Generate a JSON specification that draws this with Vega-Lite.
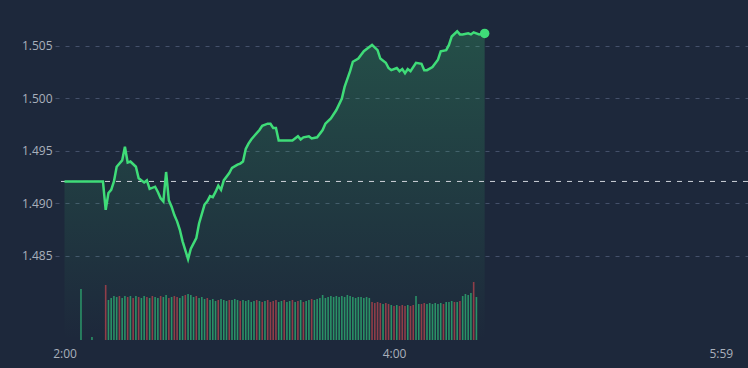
{
  "$schema": "https://vega.github.io/schema/vega-lite/v6.json",
  "autosize": "none",
  "width": 693,
  "height": 340,
  "padding": {"left": 55, "top": 0, "right": 0, "bottom": 28},
  "background": "#1d283b",
  "config": {
    "view": {"stroke": null},
    "font": "Open Sans",
    "axis": {"labelFont": "Open Sans", "labelFontSize": 12, "labelColor": "#a9b0bb", "domain": false, "ticks": false}
  },
  "datasets": {
    "price": [
      {"min": 120, "price": 1.4921}, {"min": 134, "price": 1.4921}, {"min": 135, "price": 1.4894},
      {"min": 136, "price": 1.4910}, {"min": 137, "price": 1.4913}, {"min": 138, "price": 1.4921},
      {"min": 139, "price": 1.4935}, {"min": 141, "price": 1.4941}, {"min": 142, "price": 1.4954},
      {"min": 143, "price": 1.4939}, {"min": 144, "price": 1.4940}, {"min": 146, "price": 1.4935},
      {"min": 147, "price": 1.4924}, {"min": 149, "price": 1.4920}, {"min": 150, "price": 1.4922},
      {"min": 151, "price": 1.4914}, {"min": 153, "price": 1.4916}, {"min": 154, "price": 1.4911},
      {"min": 155, "price": 1.4905}, {"min": 156, "price": 1.4902}, {"min": 157, "price": 1.4930},
      {"min": 158, "price": 1.4903}, {"min": 159, "price": 1.4897}, {"min": 160, "price": 1.4889},
      {"min": 161, "price": 1.4883}, {"min": 162, "price": 1.4875}, {"min": 163, "price": 1.4864},
      {"min": 165, "price": 1.4847}, {"min": 166, "price": 1.4857}, {"min": 168, "price": 1.4867},
      {"min": 169, "price": 1.4881}, {"min": 171, "price": 1.4899}, {"min": 172, "price": 1.4902},
      {"min": 173, "price": 1.4907}, {"min": 174, "price": 1.4906}, {"min": 175, "price": 1.4911},
      {"min": 176, "price": 1.4917}, {"min": 177, "price": 1.4913}, {"min": 178, "price": 1.4922},
      {"min": 180, "price": 1.4929}, {"min": 181, "price": 1.4934}, {"min": 183, "price": 1.4937},
      {"min": 184, "price": 1.4938}, {"min": 185, "price": 1.4940}, {"min": 186, "price": 1.4952},
      {"min": 187, "price": 1.4957}, {"min": 188, "price": 1.4961}, {"min": 189, "price": 1.4964},
      {"min": 191, "price": 1.4970}, {"min": 192, "price": 1.4974}, {"min": 194, "price": 1.4976},
      {"min": 195, "price": 1.4976}, {"min": 196, "price": 1.4972}, {"min": 197, "price": 1.4972},
      {"min": 198, "price": 1.4960}, {"min": 201, "price": 1.4960}, {"min": 203, "price": 1.4960},
      {"min": 205, "price": 1.4964}, {"min": 206, "price": 1.4961}, {"min": 207, "price": 1.4963},
      {"min": 209, "price": 1.4964}, {"min": 210, "price": 1.4962}, {"min": 212, "price": 1.4963},
      {"min": 214, "price": 1.4970}, {"min": 215, "price": 1.4976}, {"min": 217, "price": 1.4981},
      {"min": 219, "price": 1.4989}, {"min": 221, "price": 1.5000}, {"min": 222, "price": 1.5011},
      {"min": 224, "price": 1.5026}, {"min": 225, "price": 1.5035}, {"min": 227, "price": 1.5038},
      {"min": 229, "price": 1.5045}, {"min": 231, "price": 1.5049}, {"min": 232, "price": 1.5051},
      {"min": 234, "price": 1.5046}, {"min": 235, "price": 1.5038}, {"min": 237, "price": 1.5034},
      {"min": 238, "price": 1.5029}, {"min": 239, "price": 1.5027}, {"min": 241, "price": 1.5029},
      {"min": 242, "price": 1.5026}, {"min": 243, "price": 1.5028}, {"min": 244, "price": 1.5024},
      {"min": 245, "price": 1.5028}, {"min": 246, "price": 1.5026}, {"min": 248, "price": 1.5034},
      {"min": 250, "price": 1.5033}, {"min": 251, "price": 1.5027}, {"min": 252, "price": 1.5027},
      {"min": 254, "price": 1.5030}, {"min": 256, "price": 1.5037}, {"min": 257, "price": 1.5045},
      {"min": 259, "price": 1.5046}, {"min": 260, "price": 1.5051}, {"min": 261, "price": 1.5059},
      {"min": 263, "price": 1.5064}, {"min": 264, "price": 1.5061}, {"min": 265, "price": 1.5061},
      {"min": 267, "price": 1.5062}, {"min": 268, "price": 1.5061}, {"min": 269, "price": 1.5063},
      {"min": 271, "price": 1.5061}, {"min": 273, "price": 1.5062}
    ],
    "volume": [
      {"min": 126, "vol": 102, "dir": "up"}, {"min": 130, "vol": 6, "dir": "up"}, {"min": 135, "vol": 110, "dir": "down"},
      {"min": 136, "vol": 80, "dir": "up"}, {"min": 137, "vol": 84, "dir": "up"}, {"min": 138, "vol": 88, "dir": "up"},
      {"min": 139, "vol": 86, "dir": "up"}, {"min": 140, "vol": 88, "dir": "down"}, {"min": 141, "vol": 84, "dir": "up"},
      {"min": 142, "vol": 88, "dir": "up"}, {"min": 143, "vol": 86, "dir": "down"}, {"min": 144, "vol": 88, "dir": "up"},
      {"min": 145, "vol": 84, "dir": "down"}, {"min": 146, "vol": 88, "dir": "up"}, {"min": 147, "vol": 86, "dir": "down"},
      {"min": 148, "vol": 84, "dir": "up"}, {"min": 149, "vol": 88, "dir": "up"}, {"min": 150, "vol": 86, "dir": "down"},
      {"min": 151, "vol": 84, "dir": "up"}, {"min": 152, "vol": 88, "dir": "down"}, {"min": 153, "vol": 86, "dir": "up"},
      {"min": 154, "vol": 84, "dir": "up"}, {"min": 155, "vol": 88, "dir": "down"}, {"min": 156, "vol": 86, "dir": "up"},
      {"min": 157, "vol": 90, "dir": "up"}, {"min": 158, "vol": 84, "dir": "down"}, {"min": 159, "vol": 86, "dir": "up"},
      {"min": 160, "vol": 88, "dir": "down"}, {"min": 161, "vol": 86, "dir": "down"}, {"min": 162, "vol": 84, "dir": "up"},
      {"min": 163, "vol": 88, "dir": "up"}, {"min": 164, "vol": 90, "dir": "down"}, {"min": 165, "vol": 92, "dir": "up"},
      {"min": 166, "vol": 90, "dir": "up"}, {"min": 167, "vol": 86, "dir": "up"}, {"min": 168, "vol": 88, "dir": "down"},
      {"min": 169, "vol": 84, "dir": "up"}, {"min": 170, "vol": 86, "dir": "up"}, {"min": 171, "vol": 82, "dir": "up"},
      {"min": 172, "vol": 84, "dir": "down"}, {"min": 173, "vol": 80, "dir": "up"}, {"min": 174, "vol": 82, "dir": "up"},
      {"min": 175, "vol": 78, "dir": "up"}, {"min": 176, "vol": 80, "dir": "down"}, {"min": 177, "vol": 82, "dir": "up"},
      {"min": 178, "vol": 80, "dir": "up"}, {"min": 179, "vol": 78, "dir": "up"}, {"min": 180, "vol": 80, "dir": "down"},
      {"min": 181, "vol": 80, "dir": "up"}, {"min": 182, "vol": 82, "dir": "up"}, {"min": 183, "vol": 80, "dir": "up"},
      {"min": 184, "vol": 78, "dir": "down"}, {"min": 185, "vol": 80, "dir": "up"}, {"min": 186, "vol": 78, "dir": "up"},
      {"min": 187, "vol": 80, "dir": "up"}, {"min": 188, "vol": 76, "dir": "up"}, {"min": 189, "vol": 78, "dir": "up"},
      {"min": 190, "vol": 80, "dir": "down"}, {"min": 191, "vol": 78, "dir": "up"}, {"min": 192, "vol": 76, "dir": "down"},
      {"min": 193, "vol": 78, "dir": "up"}, {"min": 194, "vol": 80, "dir": "down"}, {"min": 195, "vol": 76, "dir": "down"},
      {"min": 196, "vol": 78, "dir": "down"}, {"min": 197, "vol": 80, "dir": "down"}, {"min": 198, "vol": 76, "dir": "up"},
      {"min": 199, "vol": 78, "dir": "up"}, {"min": 200, "vol": 80, "dir": "down"}, {"min": 201, "vol": 76, "dir": "up"},
      {"min": 202, "vol": 78, "dir": "up"}, {"min": 203, "vol": 80, "dir": "down"}, {"min": 204, "vol": 76, "dir": "up"},
      {"min": 205, "vol": 78, "dir": "down"}, {"min": 206, "vol": 80, "dir": "up"}, {"min": 207, "vol": 76, "dir": "down"},
      {"min": 208, "vol": 78, "dir": "up"}, {"min": 209, "vol": 80, "dir": "up"}, {"min": 210, "vol": 82, "dir": "down"},
      {"min": 211, "vol": 80, "dir": "up"}, {"min": 212, "vol": 82, "dir": "up"}, {"min": 213, "vol": 84, "dir": "up"},
      {"min": 214, "vol": 90, "dir": "up"}, {"min": 215, "vol": 84, "dir": "up"}, {"min": 216, "vol": 86, "dir": "up"},
      {"min": 217, "vol": 88, "dir": "up"}, {"min": 218, "vol": 86, "dir": "up"}, {"min": 219, "vol": 88, "dir": "up"},
      {"min": 220, "vol": 86, "dir": "up"}, {"min": 221, "vol": 88, "dir": "up"}, {"min": 222, "vol": 86, "dir": "up"},
      {"min": 223, "vol": 90, "dir": "up"}, {"min": 224, "vol": 88, "dir": "up"}, {"min": 225, "vol": 86, "dir": "up"},
      {"min": 226, "vol": 84, "dir": "up"}, {"min": 227, "vol": 86, "dir": "up"}, {"min": 228, "vol": 86, "dir": "up"},
      {"min": 229, "vol": 84, "dir": "up"}, {"min": 230, "vol": 86, "dir": "up"}, {"min": 231, "vol": 84, "dir": "up"},
      {"min": 232, "vol": 76, "dir": "down"}, {"min": 233, "vol": 74, "dir": "down"}, {"min": 234, "vol": 76, "dir": "down"},
      {"min": 235, "vol": 74, "dir": "down"}, {"min": 236, "vol": 72, "dir": "up"}, {"min": 237, "vol": 74, "dir": "down"},
      {"min": 238, "vol": 72, "dir": "down"}, {"min": 239, "vol": 70, "dir": "up"}, {"min": 240, "vol": 68, "dir": "down"},
      {"min": 241, "vol": 70, "dir": "up"}, {"min": 242, "vol": 68, "dir": "down"}, {"min": 243, "vol": 70, "dir": "down"},
      {"min": 244, "vol": 68, "dir": "down"}, {"min": 245, "vol": 70, "dir": "up"}, {"min": 246, "vol": 68, "dir": "down"},
      {"min": 247, "vol": 70, "dir": "down"}, {"min": 248, "vol": 88, "dir": "up"}, {"min": 249, "vol": 72, "dir": "up"},
      {"min": 250, "vol": 72, "dir": "down"}, {"min": 251, "vol": 74, "dir": "down"}, {"min": 252, "vol": 72, "dir": "up"},
      {"min": 253, "vol": 74, "dir": "up"}, {"min": 254, "vol": 72, "dir": "up"}, {"min": 255, "vol": 74, "dir": "up"},
      {"min": 256, "vol": 72, "dir": "up"}, {"min": 257, "vol": 74, "dir": "up"}, {"min": 258, "vol": 72, "dir": "down"},
      {"min": 259, "vol": 76, "dir": "up"}, {"min": 260, "vol": 76, "dir": "up"}, {"min": 261, "vol": 78, "dir": "up"},
      {"min": 262, "vol": 76, "dir": "down"}, {"min": 263, "vol": 76, "dir": "up"}, {"min": 264, "vol": 78, "dir": "down"},
      {"min": 265, "vol": 88, "dir": "up"}, {"min": 266, "vol": 92, "dir": "up"}, {"min": 267, "vol": 90, "dir": "up"},
      {"min": 268, "vol": 94, "dir": "up"}, {"min": 269, "vol": 116, "dir": "down"}, {"min": 270, "vol": 86, "dir": "up"}
    ]
  },
  "layer": [
    {
      "data": {"name": "price"},
      "layer": [
        {
          "mark": {
            "type": "area",
            "interpolate": "linear",
            "color": {
              "gradient": "linear", "x1": 0, "y1": 0, "x2": 0, "y2": 1,
              "stops": [
                {"offset": 0, "color": "rgba(63,220,120,0.22)"},
                {"offset": 1, "color": "rgba(63,220,120,0.0)"}
              ]
            }
          },
          "encoding": {
            "x": {
              "field": "min", "type": "quantitative",
              "scale": {"domain": [116.54, 368.9], "nice": false, "zero": false, "padding": 0},
              "axis": {
                "values": [120, 240, 359], "grid": false, "labelPadding": 8, "title": null,
                "labelExpr": "floor(datum.value / 60) + ':' + (datum.value % 60 < 10 ? '0' : '') + (datum.value % 60)"
              }
            },
            "y": {
              "field": "price", "type": "quantitative",
              "scale": {"domain": [1.477, 1.50938], "nice": false, "zero": false},
              "axis": {
                "values": [1.485, 1.49, 1.495, 1.5, 1.505], "format": ".3f", "title": null,
                "labelPadding": 3, "grid": true, "gridColor": "#44506a", "gridDash": [4, 6], "gridWidth": 1
              }
            },
            "y2": {"datum": 1.477}
          }
        },
        {
          "data": {"values": [{"ref": 1.4921}]},
          "mark": {"type": "rule", "color": "#cfd3da", "strokeDash": [5, 6], "strokeWidth": 1},
          "encoding": {"y": {"field": "ref", "type": "quantitative"}}
        },
        {
          "mark": {"type": "line", "color": "#3fdc78", "strokeWidth": 2.5, "interpolate": "linear"},
          "encoding": {
            "x": {"field": "min", "type": "quantitative"},
            "y": {"field": "price", "type": "quantitative"}
          }
        },
        {
          "transform": [{"filter": "datum.min == 273"}],
          "mark": {"type": "point", "filled": true, "color": "#3fdc78", "opacity": 1, "size": 90},
          "encoding": {
            "x": {"field": "min", "type": "quantitative"},
            "y": {"field": "price", "type": "quantitative"}
          }
        }
      ]
    },
    {
      "data": {"name": "volume"},
      "mark": {"type": "bar", "width": 1.6, "opacity": 0.9},
      "encoding": {
        "x": {"field": "min", "type": "quantitative"},
        "y": {
          "field": "vol", "type": "quantitative",
          "scale": {"domain": [0, 680], "nice": false}, "axis": null
        },
        "color": {
          "field": "dir", "type": "nominal",
          "scale": {"domain": ["up", "down"], "range": ["#2b9c6b", "#9c404a"]},
          "legend": null
        }
      }
    }
  ],
  "resolve": {"scale": {"y": "independent"}}
}
